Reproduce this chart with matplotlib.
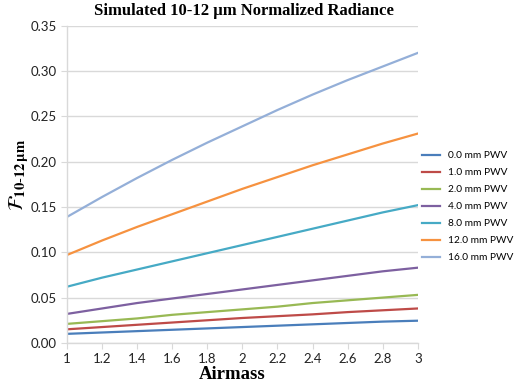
import matplotlib
matplotlib.use("Agg")
import matplotlib.pyplot as plt

# airmass grid and normalized radiance
airmass = [1.0, 1.2, 1.4, 1.6, 1.8, 2.0, 2.2, 2.4, 2.6, 2.8, 3.0]
pwv_0 = [0.010, 0.0115, 0.013, 0.0145, 0.016, 0.0175, 0.019, 0.0205, 0.022, 0.0235, 0.0245]
pwv_1 = [0.015, 0.0175, 0.020, 0.0225, 0.025, 0.0275, 0.0295, 0.0315, 0.0340, 0.0360, 0.0380]
pwv_2 = [0.021, 0.024, 0.027, 0.031, 0.034, 0.037, 0.040, 0.044, 0.047, 0.050, 0.053]
pwv_4 = [0.032, 0.038, 0.044, 0.049, 0.054, 0.059, 0.064, 0.069, 0.074, 0.079, 0.083]
pwv_8 = [0.062, 0.072, 0.081, 0.090, 0.099, 0.108, 0.117, 0.126, 0.135, 0.144, 0.152]
pwv_12 = [0.097, 0.113, 0.128, 0.142, 0.156, 0.170, 0.183, 0.196, 0.208, 0.220, 0.231]
pwv_16 = [0.139, 0.161, 0.182, 0.202, 0.221, 0.239, 0.257, 0.274, 0.290, 0.305, 0.320]

series = [
    ("0.0 mm PWV", pwv_0, "#4a7ebb"),
    ("1.0 mm PWV", pwv_1, "#be4b48"),
    ("2.0 mm PWV", pwv_2, "#98b954"),
    ("4.0 mm PWV", pwv_4, "#7d60a0"),
    ("8.0 mm PWV", pwv_8, "#46aac5"),
    ("12.0 mm PWV", pwv_12, "#f69240"),
    ("16.0 mm PWV", pwv_16, "#94afd8"),
]

plt.rcParams["mathtext.fontset"] = "stix"

fig = plt.figure(figsize=(5.19, 3.84), dpi=100)
ax = fig.add_axes([0.129, 0.107, 0.676, 0.826])

for label, vals, color in series:
    ax.plot(airmass, vals, color=color, lw=1.6, label=label)

ax.set_xlim(1, 3)
ax.set_ylim(0, 0.35)
ax.set_xticks([1, 1.2, 1.4, 1.6, 1.8, 2, 2.2, 2.4, 2.6, 2.8, 3])
ax.set_xticklabels(["1", "1.2", "1.4", "1.6", "1.8", "2", "2.2", "2.4", "2.6", "2.8", "3"])
ax.set_yticks([0, 0.05, 0.10, 0.15, 0.20, 0.25, 0.30, 0.35])
ax.set_yticklabels(["%.2f" % v for v in [0, 0.05, 0.10, 0.15, 0.20, 0.25, 0.30, 0.35]])

ax.yaxis.grid(True, color="#d9d9d9", lw=1.0)
ax.set_axisbelow(True)
for s in ["top", "right"]:
    ax.spines[s].set_visible(False)
for s in ["left", "bottom"]:
    ax.spines[s].set_color("#d9d9d9")
    ax.spines[s].set_linewidth(1.0)
ax.tick_params(axis="both", colors="#d9d9d9", labelcolor="#222222", labelsize=9.5, length=4)
for lab in ax.get_xticklabels() + ax.get_yticklabels():
    lab.set_family("Lato")

fig.text(0.47, 0.972, "Simulated 10-12 \u00b5m Normalized Radiance", ha="center", va="center",
         family="Liberation Serif", fontweight="bold", fontsize=12)
fig.text(0.448, 0.014, "Airmass", ha="center", va="baseline",
         family="Liberation Serif", fontweight="bold", fontsize=13.5)
fig.text(0.036, 0.545, r"$\mathcal{F}_{\mathbf{10\text{-}12\,\mu m}}$", ha="center", va="center",
         rotation=90, fontsize=15)

leg = ax.legend(loc="center left", bbox_to_anchor=(1.012, 0.43), frameon=False,
                prop={"family": "Lato", "size": 7.3}, handlelength=1.8, labelspacing=0.78,
                handletextpad=0.8, borderaxespad=0, borderpad=0)

fig.savefig("out.png", dpi=100)
